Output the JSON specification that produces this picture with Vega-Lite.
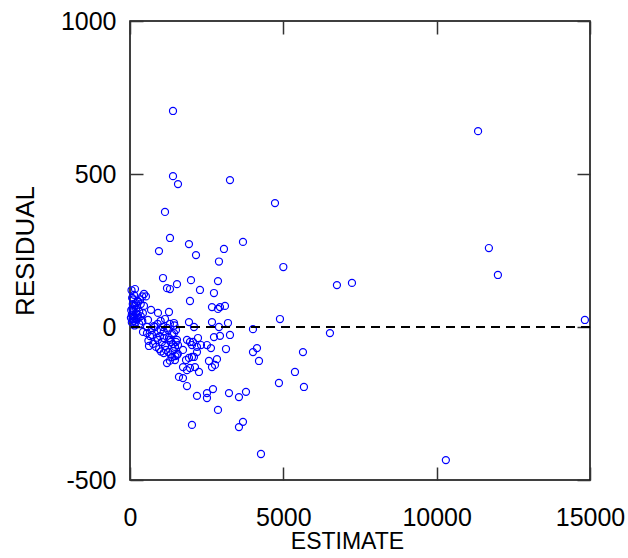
{
  "$schema": "https://vega.github.io/schema/vega-lite/v6.json",
  "width": 460,
  "height": 459,
  "autosize": "none",
  "padding": {"left": 130, "top": 21, "right": 38, "bottom": 78},
  "background": "white",
  "config": {
    "view": {"stroke": "black", "strokeWidth": 1.5},
    "axis": {
      "domain": false,
      "grid": false,
      "tickSize": -13,
      "tickColor": "#333",
      "tickWidth": 1.5,
      "labelFont": "Liberation Sans",
      "labelFontSize": 25,
      "labelColor": "black",
      "titleFont": "Liberation Sans",
      "titleFontSize": 22,
      "titleFontWeight": "normal",
      "titleColor": "black"
    }
  },
  "data": {
    "values": [
      {"x": 50, "y": 120}, {"x": 100, "y": 90}, {"x": 150, "y": 70}, {"x": 80, "y": 60}, {"x": 120, "y": 50},
      {"x": 200, "y": 45}, {"x": 60, "y": 40}, {"x": 100, "y": 35}, {"x": 150, "y": 30}, {"x": 250, "y": 40},
      {"x": 30, "y": 30}, {"x": 80, "y": 25}, {"x": 120, "y": 20}, {"x": 180, "y": 15}, {"x": 60, "y": 15},
      {"x": 100, "y": 55}, {"x": 200, "y": 60}, {"x": 300, "y": 50}, {"x": 350, "y": 75}, {"x": 250, "y": 85},
      {"x": 400, "y": 100}, {"x": 456, "y": 108}, {"x": 520, "y": 100}, {"x": 330, "y": 90}, {"x": 163, "y": 124},
      {"x": 196, "y": 78}, {"x": 261, "y": 82}, {"x": 456, "y": 69}, {"x": 587, "y": 23}, {"x": 400, "y": 20},
      {"x": 300, "y": 10}, {"x": 150, "y": 5}, {"x": 220, "y": 25}, {"x": 90, "y": 75}, {"x": 40, "y": 55},
      {"x": 70, "y": 95}, {"x": 130, "y": 105}, {"x": 280, "y": 30}, {"x": 350, "y": 35}, {"x": 420, "y": 45},
      {"x": 424, "y": -16}, {"x": 554, "y": -20}, {"x": 554, "y": 0}, {"x": 652, "y": -30}, {"x": 719, "y": -26},
      {"x": 782, "y": 3}, {"x": 815, "y": 0}, {"x": 880, "y": -35}, {"x": 913, "y": -42}, {"x": 978, "y": -30},
      {"x": 1043, "y": -49}, {"x": 1076, "y": 0}, {"x": 1108, "y": -36}, {"x": 1141, "y": -62}, {"x": 1206, "y": -3},
      {"x": 1239, "y": -10}, {"x": 1271, "y": -36}, {"x": 1304, "y": -42}, {"x": 1336, "y": -49}, {"x": 1369, "y": -23},
      {"x": 1402, "y": -56}, {"x": 1434, "y": -20}, {"x": 1467, "y": -65}, {"x": 1499, "y": -49}, {"x": 1532, "y": -42},
      {"x": 1565, "y": -59}, {"x": 619, "y": -62}, {"x": 750, "y": -55}, {"x": 850, "y": -65}, {"x": 950, "y": -72},
      {"x": 1010, "y": -80}, {"x": 1100, "y": -85}, {"x": 1170, "y": -75}, {"x": 1250, "y": -82}, {"x": 1330, "y": -90},
      {"x": 1400, "y": -78}, {"x": 1480, "y": -95}, {"x": 1560, "y": -88}, {"x": 1369, "y": -98}, {"x": 1467, "y": -108},
      {"x": 1532, "y": -92}, {"x": 1206, "y": -118}, {"x": 1300, "y": -110}, {"x": 700, "y": -10}, {"x": 900, "y": 10},
      {"x": 1000, "y": 20}, {"x": 1100, "y": -15}, {"x": 1300, "y": 10}, {"x": 1450, "y": 5}, {"x": 1500, "y": -10},
      {"x": 600, "y": -45}, {"x": 1000, "y": -10},
      {"x": 1728, "y": -75}, {"x": 2021, "y": -59}, {"x": 2184, "y": -65}, {"x": 2315, "y": -59}, {"x": 2510, "y": -59},
      {"x": 2640, "y": -69}, {"x": 3130, "y": -72}, {"x": 4010, "y": -82}, {"x": 4141, "y": -69}, {"x": 5640, "y": -82},
      {"x": 2184, "y": -82}, {"x": 2086, "y": -98}, {"x": 1826, "y": -108}, {"x": 1923, "y": -101}, {"x": 2021, "y": -98},
      {"x": 2575, "y": -111}, {"x": 2836, "y": -105}, {"x": 4206, "y": -111}, {"x": 1728, "y": -131}, {"x": 1858, "y": -141},
      {"x": 1956, "y": -134}, {"x": 2119, "y": -131}, {"x": 2249, "y": -147}, {"x": 2673, "y": -131}, {"x": 2771, "y": -124},
      {"x": 1597, "y": -163}, {"x": 1728, "y": -167}, {"x": 1858, "y": -193}, {"x": 4857, "y": -183}, {"x": 5379, "y": -147},
      {"x": 5672, "y": -196}, {"x": 2184, "y": -225}, {"x": 2510, "y": -216}, {"x": 2510, "y": -232}, {"x": 2706, "y": -203},
      {"x": 3228, "y": -216}, {"x": 3553, "y": -229}, {"x": 3782, "y": -212}, {"x": 2869, "y": -271}, {"x": 2021, "y": -320},
      {"x": 3553, "y": -327}, {"x": 3684, "y": -310}, {"x": 4271, "y": -415}, {"x": 10300, "y": -435},
      {"x": 1858, "y": -42}, {"x": 1956, "y": -49}, {"x": 2054, "y": -49}, {"x": 2217, "y": -36}, {"x": 2738, "y": -33},
      {"x": 2934, "y": -29}, {"x": 3260, "y": -26}, {"x": 4010, "y": -7}, {"x": 2086, "y": 0}, {"x": 2901, "y": 0},
      {"x": 4890, "y": 26}, {"x": 6520, "y": -20}, {"x": 14833, "y": 23},
      {"x": 1434, "y": 13}, {"x": 1923, "y": 16}, {"x": 2673, "y": 16}, {"x": 3195, "y": 13}, {"x": 1141, "y": 26},
      {"x": 1271, "y": 49}, {"x": 913, "y": 46}, {"x": 685, "y": 56}, {"x": 2869, "y": 59}, {"x": 2934, "y": 65},
      {"x": 3097, "y": 69}, {"x": 2673, "y": 65}, {"x": 1956, "y": 85}, {"x": 2738, "y": 111}, {"x": 2282, "y": 121},
      {"x": 1206, "y": 127}, {"x": 1304, "y": 124}, {"x": 1532, "y": 140}, {"x": 1076, "y": 160}, {"x": 1989, "y": 153},
      {"x": 2869, "y": 150}, {"x": 2901, "y": 214}, {"x": 5000, "y": 196}, {"x": 6748, "y": 137}, {"x": 7238, "y": 144},
      {"x": 11703, "y": 258}, {"x": 11997, "y": 170}, {"x": 11350, "y": 640}, {"x": 945, "y": 248}, {"x": 1304, "y": 291},
      {"x": 1923, "y": 271}, {"x": 2152, "y": 235}, {"x": 3064, "y": 255}, {"x": 3684, "y": 278},
      {"x": 1141, "y": 376}, {"x": 1402, "y": 493}, {"x": 1565, "y": 467}, {"x": 1402, "y": 706}, {"x": 3260, "y": 480},
      {"x": 4728, "y": 405}
    ]
  },
  "resolve": {"axis": {"x": "independent", "y": "independent"}},
  "layer": [
    {
      "mark": {"type": "point", "shape": "circle", "filled": false, "color": "#0000ff", "size": 50, "strokeWidth": 1.2, "opacity": 1},
      "encoding": {
        "x": {
          "field": "x", "type": "quantitative",
          "scale": {"domain": [0, 15000], "nice": false, "zero": false},
          "axis": {"orient": "bottom", "title": "ESTIMATE", "titleFontSize": 23, "titleX": 217, "values": [0, 5000, 10000, 15000], "labelExpr": "datum.value + ''", "labelPadding": 38, "titlePadding": 0, "labelFlush": false, "labelOverlap": false}
        },
        "y": {
          "field": "y", "type": "quantitative",
          "scale": {"domain": [-500, 1000], "nice": false, "zero": false},
          "axis": {"orient": "left", "title": "RESIDUAL", "titleFontSize": 26, "values": [-500, 0, 500, 1000], "labelExpr": "datum.value + ''", "labelPadding": 27, "titlePadding": 22, "labelFlush": false, "labelOverlap": false}
        }
      }
    },
    {
      "mark": {"type": "rule", "color": "black", "strokeWidth": 1.5, "strokeDash": [9, 6]},
      "encoding": {
        "y": {"datum": 0, "type": "quantitative", "axis": {"orient": "right", "labels": false, "title": null, "values": [-500, 0, 500, 1000]}}
      }
    },
    {
      "mark": {"type": "rule", "opacity": 0},
      "encoding": {
        "x": {"datum": 0, "type": "quantitative", "axis": {"orient": "top", "labels": false, "title": null, "values": [0, 5000, 10000, 15000]}}
      }
    }
  ]
}
